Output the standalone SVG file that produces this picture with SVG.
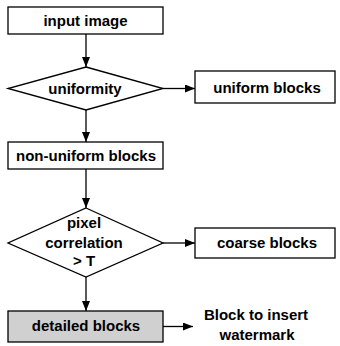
<svg xmlns="http://www.w3.org/2000/svg" width="340" height="346" viewBox="0 0 340 346">
<defs>
<marker id="ah" markerWidth="10" markerHeight="8" refX="10" refY="4" orient="auto" markerUnits="userSpaceOnUse">
<path d="M0,0 L10,4 L0,8 z" fill="#000"/>
</marker>
<style>
.shape{fill:#fff;stroke:#000;stroke-width:1.3}
.grey{fill:#d0d0d0}
.t{font-family:"Liberation Sans",Arial,sans-serif;font-weight:bold;font-size:15px;fill:#000;text-anchor:middle}
.c{stroke:#000;stroke-width:1.3;fill:none;marker-end:url(#ah)}
</style>
</defs>
<rect width="340" height="346" fill="#fff"/>
<g id="connectors">
<line class="c" x1="86" y1="34" x2="86" y2="67"/>
<line class="c" x1="163" y1="88.5" x2="195" y2="88.5"/>
<line class="c" x1="86" y1="110" x2="86" y2="142"/>
<line class="c" x1="86" y1="169" x2="86" y2="208"/>
<line class="c" x1="163" y1="243" x2="195" y2="243"/>
<line class="c" x1="86" y1="277" x2="86" y2="311"/>
<line class="c" x1="163" y1="326.5" x2="193" y2="326.5"/>
</g>
<g id="input-image">
<rect class="shape" x="8" y="7" width="155" height="27"/>
<text class="t" x="85.5" y="26">input image</text>
</g>
<g id="uniformity">
<polygon class="shape" points="86,67 163,88.5 86,110 8,88.5"/>
<text class="t" x="85" y="93.5">uniformity</text>
</g>
<g id="uniform-blocks">
<rect class="shape" x="195" y="71" width="140" height="32"/>
<text class="t" x="267" y="93">uniform blocks</text>
</g>
<g id="non-uniform-blocks">
<rect class="shape" x="8" y="142" width="155" height="27"/>
<text class="t" x="86" y="161">non-uniform blocks</text>
</g>
<g id="pixel-correlation">
<polygon class="shape" points="86,208 163,243 86,277 8,243"/>
<text class="t" x="84" y="228">pixel</text>
<text class="t" x="84" y="247.5">correlation</text>
<text class="t" x="84" y="266">&gt; T</text>
</g>
<g id="coarse-blocks">
<rect class="shape" x="195" y="228" width="140" height="30"/>
<text class="t" x="267" y="248">coarse blocks</text>
</g>
<g id="detailed-blocks">
<rect class="shape grey" x="8" y="311" width="155" height="31"/>
<text class="t" x="86" y="331">detailed blocks</text>
</g>
<g id="watermark-label">
<text class="t" x="256" y="320">Block to insert</text>
<text class="t" x="257" y="340">watermark</text>
</g>
</svg>
